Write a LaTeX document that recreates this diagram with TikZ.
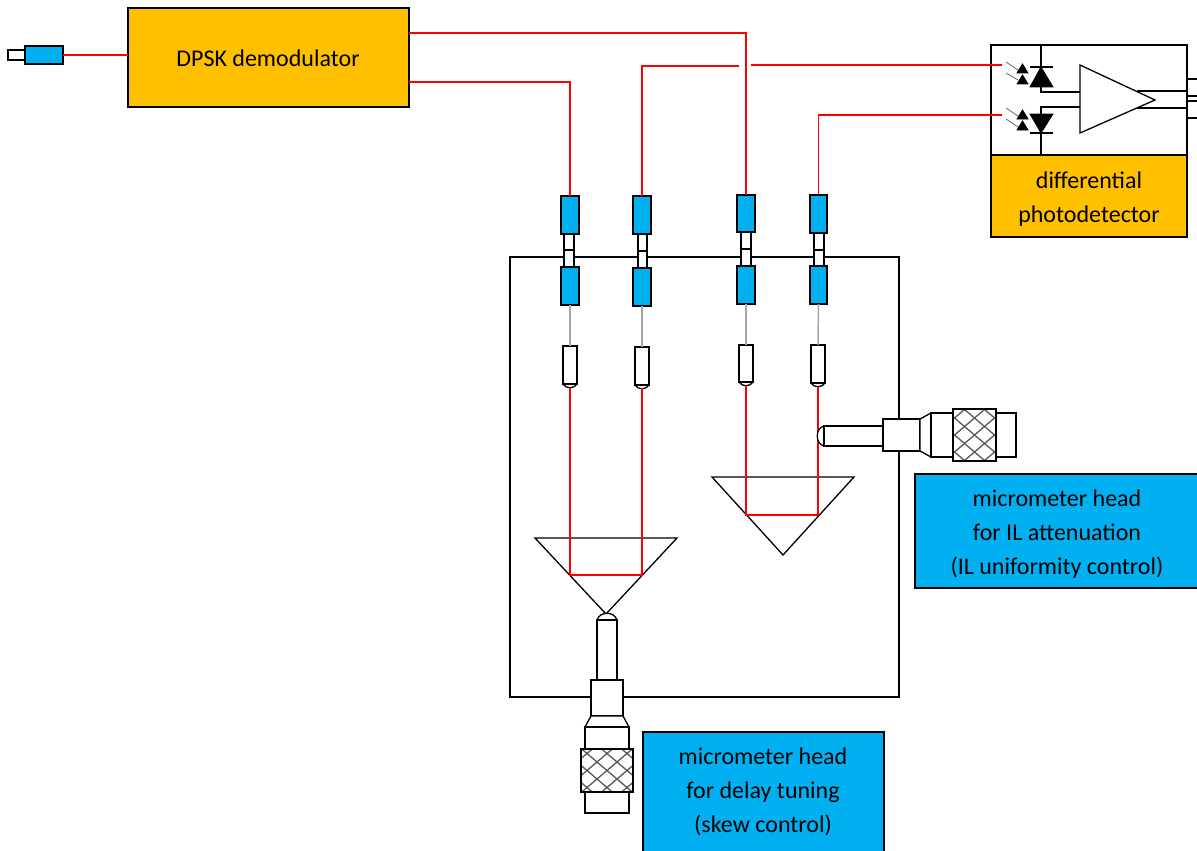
\documentclass[tikz,border=0pt]{standalone}
\usepackage{fontspec}
\setmainfont{Carlito}
\usetikzlibrary{fit}
\definecolor{orangebox}{HTML}{FFC000}
\definecolor{bluebox}{HTML}{00B0F0}
\definecolor{fibre}{HTML}{FF0000}
\tikzset{
  base/.style={inner sep=0pt,outer sep=0pt,minimum size=0pt,draw=black,line width=1.3pt},
  orangefill/.style={base,fill=orangebox},
  bluefill/.style={base,fill=bluebox},
  whitefill/.style={base,fill=white},
  plain/.style={base},
  redline/.style={draw=fibre,line width=1.5pt},
  grayline/.style={draw=black!35,line width=1.5pt},
  ray/.style={draw=black!60,line width=.8pt},
  wire/.style={draw=black,line width=1.3pt},
  solid shape/.style={fill=black,draw=black,line width=.8pt,line join=miter},
  knurlline/.style={draw=black!65,line width=1.3pt},
  labeltext/.style={font=\fontsize{24}{33.8}\selectfont,align=center,inner sep=0pt}
}
\newcommand{\bx}[6]{\node[#1,fit={(#3,#4)(#5,#6)}] (#2) {};}
\newcommand{\capshape}[3]{\draw[whitefill] (#1,#3) .. controls (#1+3,#3+5) and (#2-3,#3+5) .. (#2,#3);}
\newcommand{\knurlfill}[4]{%
  \begin{scope}
    \pgfmathsetmacro{\kcx}{(#1+#3)/2}
    \pgfmathsetmacro{\kcy}{(#2+#4)/2}
    \fill[white] (#1,#2) rectangle (#3,#4);
    \clip (#1,#2) rectangle (#3,#4);
    \foreach \k in {-4,...,4}{
      \draw[knurlline] (\kcx+\k*20-50,\kcy-42.5) -- ++(100,85);
      \draw[knurlline] (\kcx+\k*20-50,\kcy+42.5) -- ++(100,-85);
    }
  \end{scope}}
\begin{document}
\begin{tikzpicture}[x=1pt,y=-1pt]
\useasboundingbox (0,0) rectangle (1197,851);

% housing
\bx{whitefill}{housing}{510}{257}{899}{697}

% input connector and demodulator
\bx{whitefill}{instub}{8}{50}{25}{60}
\bx{bluefill}{inconn}{25}{46}{63}{64}
\bx{orangefill}{dpsk}{128}{8}{409}{107}
\node[labeltext] (dpsktext) at (268,58) {DPSK demodulator};
\coordinate (dpskin) at (128,55);
\coordinate (dpskA) at (409,33);
\coordinate (dpskB) at (409,82);
\draw[redline] (inconn.east |- dpskin) -- (dpskin);

% photodetector
\bx{whitefill}{pdtop}{991}{45}{1187}{155}
\bx{orangefill}{pdlabel}{991}{155}{1187}{237}
\node[labeltext] (pdtext) at (1089,199) {differential\\photodetector};
\bx{plain}{outA}{1187}{79}{1210}{96}
\bx{plain}{outB}{1187}{101}{1210}{118}
\coordinate (pd1) at (1002,65);
\coordinate (pd2) at (1002,115);
\coordinate (gapL) at (739,66);
\coordinate (gapR) at (751,65);

% diodes and amplifier
\draw[wire] (1041,45) -- (1041,67);
\draw[wire] (1030,67) -- (1053,67);
\draw[solid shape] (1041,67) -- (1053,87) -- (1030,87) -- cycle;
\draw[wire] (1041,87) -- (1041,92) -- (1080,92);
\draw[wire] (1080,107) -- (1041,107) -- (1041,114);
\draw[solid shape] (1030,114) -- (1053,114) -- (1041,133) -- cycle;
\draw[wire] (1030,133) -- (1053,133);
\draw[wire] (1041,133) -- (1041,155);
\draw[wire] (1137,91) -- (1187,91);
\draw[wire] (1137,108) -- (1187,108);
\draw[wire,line join=miter] (1080,65) -- (1155,100) -- (1080,133) -- cycle;
\foreach \ya/\yb in {64/73,75/84,110/119,121/130}{
  \draw[solid shape] (1022.5,\ya) -- (1028,\yb) -- (1017,\yb) -- cycle;
}
\foreach \ya/\yb in {62/70,73/80,108/116,119/127}{
  \draw[ray] (1006,\ya) -- (1018,\yb);
}

% fibre connectors and collimators, column by column
\bx{whitefill}{wa1}{564}{234}{574}{250}
\bx{whitefill}{wa2}{564}{250}{574}{267}
\bx{bluefill}{ta}{561}{196}{579}{234}
\bx{bluefill}{la}{561}{267}{579}{305}
\capshape{563}{577}{384}
\bx{whitefill}{ca}{563}{346}{577}{384}

\bx{whitefill}{wb1}{638}{234}{647}{251}
\bx{whitefill}{wb2}{638}{251}{647}{268}
\bx{bluefill}{tb}{633}{196}{651}{234}
\bx{bluefill}{lb}{633}{268}{651}{306}
\capshape{635}{649}{385}
\bx{whitefill}{cb}{635}{347}{649}{385}

\bx{whitefill}{wc1}{741}{232}{751}{249}
\bx{whitefill}{wc2}{741}{249}{751}{266}
\bx{bluefill}{tc}{737}{195}{755}{232}
\bx{bluefill}{lc}{737}{266}{755}{304}
\capshape{739}{753}{382}
\bx{whitefill}{cc}{739}{345}{753}{382}

\bx{whitefill}{wd1}{814}{233}{824}{250}
\bx{whitefill}{wd2}{814}{250}{824}{266}
\bx{bluefill}{td}{810}{195}{827}{233}
\bx{bluefill}{ld}{810}{266}{827}{304}
\capshape{811}{825}{383}
\bx{whitefill}{cd}{811}{345}{825}{383}

\draw[grayline] (la.south) -- (ca.north);
\draw[grayline] (lb.south) -- (cb.north);
\draw[grayline] (lc.south) -- (cc.north);
\draw[grayline] (ld.south) -- (cd.north);

% fibres
\draw[redline] (dpskA) -| (tc.north);
\draw[redline] (dpskB) -| (ta.north);
\draw[redline] (tb.north) |- (gapL);
\draw[redline] (gapR) -- (pd1);
\draw[redline] (td.north) |- (pd2);

% prisms
\draw[wire,line join=miter] (535,538) -- (677,538) -- (606,614) -- cycle;
\draw[wire,line join=miter] (712,477) -- (854,477) -- (783,555) -- cycle;

% beams
\coordinate (foldA) at (606,575);
\coordinate (foldB) at (783,515);
\draw[redline] (ca.south |- 0,388) -- (ca.south |- foldA) -- (cb.south |- foldA) -- (cb.south |- 0,388);
\draw[redline] (cc.south |- 0,386) -- (cc.south |- foldB) -- (cd.south |- foldB) -- (cd.south |- 0,387);

% right micrometer
\draw[whitefill] (824,426) .. controls (815,428) and (815,444) .. (824,446);
\bx{whitefill}{rshaft}{824}{426}{883}{446}
\bx{whitefill}{rcollar}{883}{419}{920}{451}
\draw[whitefill,line join=miter] (920,419) -- (931,413) -- (931,457) -- (920,451) -- cycle;
\bx{whitefill}{rbarrel}{931}{413}{1016}{457}
\knurlfill{953}{409}{996}{461}
\bx{plain}{rknurl}{953}{409}{996}{461}

% bottom micrometer
\draw[whitefill] (597,620) .. controls (600,611) and (614,611) .. (617,620);
\bx{whitefill}{bshaft}{597}{620}{617}{680}
\bx{whitefill}{bcollar}{591}{680}{623}{716}
\draw[whitefill,line join=miter] (591,716) -- (623,716) -- (629,727) -- (585,727) -- cycle;
\bx{whitefill}{bbarrel}{585}{727}{629}{813}
\knurlfill{581}{749}{633}{792}
\bx{plain}{bknurl}{581}{749}{633}{792}

% labels
\bx{bluefill}{illabel}{915}{474}{1200}{588}
\node[labeltext] (iltext) at (1057,534) {micrometer head\\for IL attenuation\\(IL uniformity control)};
\bx{bluefill}{delaylabel}{643}{732}{884}{855}
\node[labeltext] (delaytext) at (763,792) {micrometer head\\for delay tuning\\(skew control)};
\end{tikzpicture}
\end{document}
